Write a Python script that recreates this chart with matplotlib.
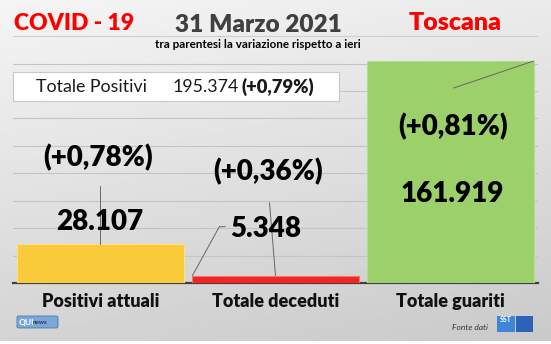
import numpy as np
import matplotlib.pyplot as plt
from matplotlib.patches import Rectangle, FancyBboxPatch
from matplotlib.transforms import offset_copy

# data
categories = ['Positivi attuali', 'Totale deceduti', 'Totale guariti']
values = [28107, 5348, 161919]
value_labels = ['28.107', '5.348', '161.919']
pct_labels = ['(+0,78%)', '(+0,36%)', '(+0,81%)']
colors = ['#F9CB3A', '#F42424', '#9BD06A']
total_label = 'Totale Positivi'
total_value = '195.374'
total_pct = '(+0,79%)'
date_label = '31 Marzo 2021'
region = 'Toscana'

plt.rcParams['font.family'] = ['Lato', 'DejaVu Sans']

W, H = 551, 344
fig = plt.figure(figsize=(W / 100, H / 100), dpi=100)

# background gradient
bg = fig.add_axes([0, 0, 1, 1], zorder=0)
yy, xx = np.mgrid[0:1:200j, 0:1:300j]
grad = 0.96 - 0.13 * yy - 0.04 * xx
bg.imshow(grad, cmap='gray', vmin=0, vmax=1, aspect='auto', extent=[0, 1, 0, 1])
bg.set_xlim(0, 1)
bg.set_ylim(0, 1)
bg.axis('off')


def fx(px):
    return px / W


def fy(py):
    return 1 - py / H


BIG = dict(fontweight='heavy', ha='center', va='center', zorder=6, color='black')

# header
fig.text(fx(14), fy(24), 'COVID - 19', color='#FF0000', fontsize=16.5,
         fontweight='heavy', va='center', ha='left', zorder=5)
fig.text(fx(258), fy(25), date_label, color='#404040', fontsize=17.6,
         fontweight='heavy', va='center', ha='center', zorder=5)
fig.text(fx(502), fy(23), region, color='#FF0000', fontsize=18,
         fontweight='heavy', va='center', ha='right', zorder=5)
fig.add_artist(plt.Line2D([fx(13), fx(537)], [fy(36), fy(36)], color='#cfcfcf', lw=0.8))
fig.text(fx(258), fy(44), 'tra parentesi la variazione rispetto a ieri', color='black',
         fontsize=8.4, fontweight='bold', va='center', ha='center', zorder=5)

# main axes
ax = fig.add_axes([fx(13), fy(283), fx(538) - fx(13), fy(61) - fy(283)], zorder=2)
ax.set_facecolor('none')
x = np.arange(len(categories))
ax.bar(x, values, width=0.95, color=colors, edgecolor=['#FBE08A', '#F77070', '#B4DD8E'],
       linewidth=0.8, zorder=3)
ax.set_xlim(-0.5, 2.5)
ax.set_ylim(0, values[2])
ax.set_yticks(np.arange(20000, 170000, 20000))
ax.yaxis.grid(True, color='#c4c4c4', lw=0.8, zorder=0)
ax.tick_params(left=False, labelleft=False, bottom=False)
for s in ['left', 'right', 'top']:
    ax.spines[s].set_visible(False)
ax.spines['bottom'].set_color('#404040')
ax.spines['bottom'].set_linewidth(1.6)
ax.set_xticks(x)
ax.set_xticklabels(categories, fontsize=13, fontweight='heavy', color='#111111')
ax.tick_params(axis='x', pad=4)

# value / percent labels
fig.text(fx(100), fy(222), value_labels[0], fontsize=20, **BIG)
fig.text(fx(98), fy(158), pct_labels[0], fontsize=20, **BIG)
fig.text(fx(266), fy(229), value_labels[1], fontsize=20, **BIG)
fig.text(fx(268), fy(172), pct_labels[1], fontsize=20, **BIG)
fig.text(fx(452), fy(194), value_labels[2], fontsize=20, **BIG)
fig.text(fx(453), fy(127), pct_labels[2], fontsize=20, **BIG)

# leader lines anchored on bars
lc = dict(arrowstyle='-', color='#666666', lw=0.7, shrinkA=0, shrinkB=0)
ax.annotate('', xy=(0, values[0]), xytext=(0, 58), textcoords='offset pixels', arrowprops=lc)
left_red = 1 - 0.475
ax.annotate('', xy=(left_red, values[1]), xytext=(27, 49), textcoords='offset pixels', arrowprops=lc)
ax.annotate('', xy=(left_red, values[1]),
            xycoords=offset_copy(ax.transData, fig=fig, x=27, y=49, units='dots'),
            xytext=(6, 0), textcoords='offset pixels', arrowprops=lc)
ax.annotate('', xy=(1.0, values[1]), xytext=(-6, 73), textcoords='offset pixels', arrowprops=lc)
ax.annotate('', xy=(2 + 0.475, values[2]), xytext=(-80, -27), textcoords='offset pixels', arrowprops=lc)

# total box
fig.add_artist(Rectangle((fx(13), fy(101)), fx(339) - fx(13), fy(72) - fy(101),
                         facecolor='white', edgecolor='#c8c8c8', lw=0.8, zorder=4))
fig.text(fx(36), fy(87), total_label, fontsize=12.8, ha='left', va='center', color='#1a1a1a', zorder=5)
fig.text(fx(173), fy(87), total_value, fontsize=12.8, ha='left', va='center', color='#1a1a1a', zorder=5)
fig.text(fx(242), fy(87), total_pct, fontsize=13.2, fontweight='heavy', ha='left', va='center',
         color='#1a1a1a', zorder=5)

# footer
fig.text(fx(488), fy(328), 'Fonte dati', fontsize=6, style='italic', ha='right', va='center',
         color='#333333', zorder=5)
fig.add_artist(FancyBboxPatch((fx(17), fy(328)), fx(41), fy(316) - fy(328),
                              boxstyle='round,pad=0,rounding_size=0.004',
                              facecolor='#7aa6d8', edgecolor='#4b78b0', lw=0.6, zorder=4))
fig.text(fx(19), fy(322), 'QUI', fontsize=6, fontweight='bold', color='white', ha='left', va='center', zorder=5)
fig.text(fx(33), fy(322.5), 'news', fontsize=4.5, fontweight='bold', color='#20385a', ha='left', va='center', zorder=5)
fig.add_artist(Rectangle((fx(497), fy(332)), fx(18), fy(316) - fy(332), facecolor='#3f86d8',
                         edgecolor='none', zorder=4))
fig.add_artist(Rectangle((fx(516), fy(332)), fx(17), fy(316) - fy(332), facecolor='#2a63b8',
                         edgecolor='none', zorder=4))
fig.text(fx(506), fy(320), 'SST', fontsize=5, fontweight='bold', color='white', ha='center', va='center', zorder=5)

# bottom strip
fig.add_artist(Rectangle((0, 0), 1, fy(341), facecolor='white', edgecolor='none', zorder=1))

fig.savefig('out.png', dpi=100)
